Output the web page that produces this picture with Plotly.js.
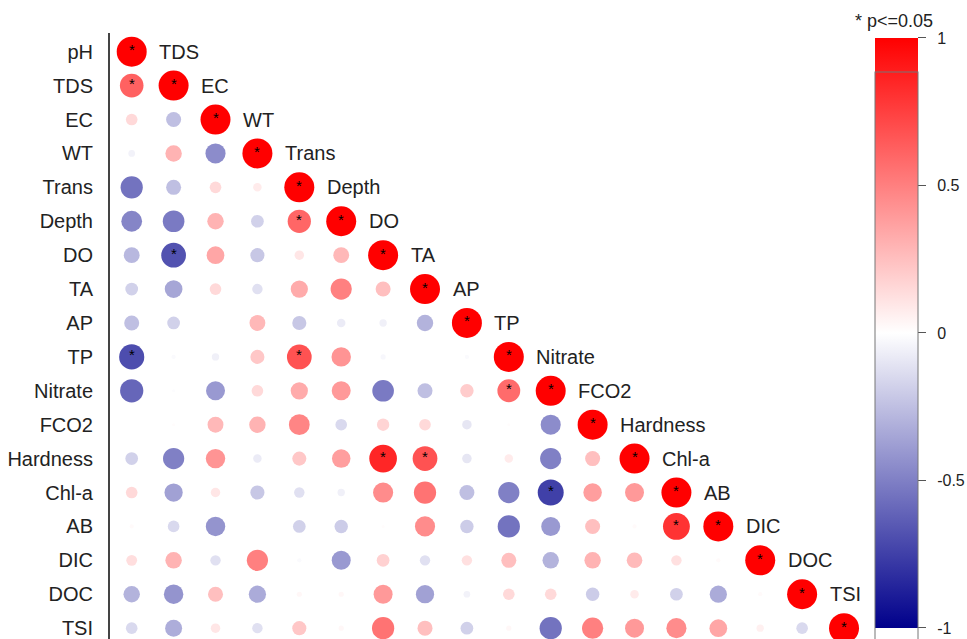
<!DOCTYPE html>
<html>
<head>
<meta charset="utf-8">
<script src="https://cdn.plot.ly/plotly-3.0.1.min.js"></script>
<style>
  html, body { margin: 0; padding: 0; background: #fff; }
  #chart { width: 967px; height: 639px; }
</style>
</head>
<body>
<div id="chart"></div>
<script>
// Variables of the correlation matrix, in display order
const names = ['pH', 'TDS', 'EC', 'WT', 'Trans', 'Depth', 'DO', 'TA', 'AP', 'TP',
               'Nitrate', 'FCO2', 'Hardness', 'Chl-a', 'AB', 'DIC', 'DOC', 'TSI'];

// Lower triangle of Pearson r: row i holds r(names[i], names[j]) for j < i
const corrLower = [
  [],
  [0.62],
  [0.15, -0.25],
  [-0.05, 0.30, -0.45],
  [-0.55, -0.25, 0.15, 0.08],
  [-0.48, -0.52, 0.30, -0.18, 0.60],
  [-0.28, -0.68, 0.35, -0.22, 0.10, 0.28],
  [-0.18, -0.35, 0.15, -0.12, 0.33, 0.50, 0.25],
  [-0.25, -0.18, 0.00, 0.28, -0.22, -0.08, -0.06, -0.30],
  [-0.70, -0.02, -0.06, 0.22, 0.68, 0.42, -0.03, 0.00, -0.02],
  [-0.60, -0.01, -0.40, 0.15, 0.33, 0.40, -0.52, -0.25, 0.20, 0.58],
  [0.00, 0.01, 0.28, 0.30, 0.48, -0.15, 0.17, 0.15, -0.10, 0.01, -0.45],
  [-0.18, -0.50, 0.42, -0.08, 0.22, 0.38, 0.85, 0.68, -0.10, 0.08, -0.50, 0.25],
  [0.15, -0.37, 0.10, -0.22, -0.12, -0.06, 0.45, 0.55, -0.25, -0.50, -0.75, 0.38, 0.40],
  [0.02, -0.15, -0.42, 0.00, -0.18, -0.20, 0.01, 0.45, -0.20, -0.55, -0.40, 0.25, 0.02, 0.80],
  [0.13, 0.30, -0.12, 0.50, -0.02, -0.40, 0.18, -0.12, 0.12, 0.25, -0.30, 0.30, 0.27, 0.12, 0.02],
  [-0.30, -0.42, 0.25, -0.33, 0.03, 0.03, 0.40, -0.37, -0.05, 0.15, 0.15, -0.20, 0.08, -0.18, -0.33, 0.02],
  [-0.15, -0.32, 0.10, -0.12, 0.22, 0.03, 0.55, 0.25, -0.18, 0.03, -0.55, 0.50, 0.40, 0.45, 0.35, 0.06, -0.15]
];

// Off-diagonal pairs with p <= 0.05 (row variable, column variable)
const significantPairs = [
  ['TDS', 'pH'], ['DO', 'TDS'], ['TP', 'pH'], ['Depth', 'Trans'], ['TP', 'Trans'],
  ['Nitrate', 'TP'], ['Hardness', 'DO'], ['Hardness', 'TA'], ['Chl-a', 'Nitrate'], ['AB', 'Chl-a']
];

// Colour bar ticks
const barTicks = [-1, -0.5, 0, 0.5, 1];
const barTickText = ['-1', '-0.5', '0', '0.5', '1'];

const FONT = 'Arial, "Liberation Sans", sans-serif';
const MAX_DIAM = 30; // circle diameter (px) for |r| = 1; circle area follows |r|

// Build one point per lower-triangle cell (diagonal r = 1)
const cx = [], cy = [], cr = [];
names.forEach((_, i) => {
  for (let j = 0; j <= i; j++) {
    cx.push(j);
    cy.push(i);
    cr.push(i === j ? 1 : corrLower[i][j]);
  }
});
const sizes = cr.map(v => MAX_DIAM * Math.sqrt(Math.abs(v)));

// Significance markers: every diagonal cell plus the listed pairs
const sx = [], sy = [];
names.forEach((_, i) => { sx.push(i); sy.push(i); });
significantPairs.forEach(([a, b]) => { sy.push(names.indexOf(a)); sx.push(names.indexOf(b)); });

const circles = {
  type: 'scatter',
  mode: 'markers',
  x: cx,
  y: cy,
  hoverinfo: 'skip',
  marker: {
    size: sizes,
    sizemode: 'diameter',
    opacity: 1,
    color: cr,
    cmin: -1,
    cmax: 1,
    colorscale: [[0, '#00008B'], [0.5, '#FFFFFF'], [1, '#FF0000']],
    line: { width: 0 },
    showscale: true,
    colorbar: {
      xref: 'container', x: 875 / 967, xanchor: 'left',
      yref: 'container', y: 1 - 40 / 639, yanchor: 'top',
      len: 590, lenmode: 'pixels',
      thickness: 43, thicknessmode: 'pixels',
      xpad: 0, ypad: 0,
      outlinewidth: 1, outlinecolor: '#777',
      tickvals: barTicks,
      ticktext: barTickText.map(t => '\u2002' + t),
      ticks: 'outside', ticklen: 8, tickwidth: 1, tickcolor: '#555',
      ticklabeloverflow: 'allow',
      tickfont: { family: FONT, size: 16, color: '#222' }
    }
  }
};

// Column names sit just right of the diagonal circle one row above
const annotations = names.slice(1).map((n, k) => ({
  x: k + 0.61, y: k, xref: 'x', yref: 'y',
  text: n, showarrow: false, xanchor: 'left', yanchor: 'middle',
  font: { family: FONT, size: 20, color: '#222' }
}));
annotations.push({
  x: 0, y: -0.94, xref: 'x', yref: 'y', text: names[0], showarrow: false,
  xanchor: 'center', yanchor: 'middle',
  font: { family: FONT, size: 19, color: '#222' }
});
annotations.push({
  x: (894 - 110) / 760, y: (639 - 21) / 606, xref: 'paper', yref: 'paper',
  text: '* p<=0.05', showarrow: false, xanchor: 'center', yanchor: 'middle',
  font: { family: FONT, size: 18, color: '#222' }
});
// Asterisks for significant cells, sitting in the upper half of each circle
sx.forEach((x, k) => annotations.push({
  x: x, y: sy[k], xref: 'x', yref: 'y', text: '*', showarrow: false,
  xanchor: 'center', yanchor: 'middle', yshift: 2,
  font: { family: FONT, size: 15, color: '#000' }
}));

const layout = {
  width: 967,
  height: 639,
  margin: { l: 110, r: 97, t: 33, b: 0, pad: 0 },
  paper_bgcolor: '#fff',
  plot_bgcolor: '#fff',
  showlegend: false,
  font: { family: FONT, color: '#222' },
  xaxis: {
    range: [-0.518, 17.62],
    showticklabels: false, showgrid: false, zeroline: false, showline: false, ticks: ''
  },
  yaxis: {
    range: [17.32, -0.552],
    tickvals: names.map((_, i) => i),
    ticktext: names,
    tickfont: { family: FONT, size: 20, color: '#222' },
    ticks: '',
    ticklabelstandoff: 11,
    ticklabeloverflow: 'allow',
    showgrid: false, zeroline: false,
    showline: true, linecolor: '#444', linewidth: 2
  },
  annotations: annotations
};

Plotly.newPlot('chart', [circles], layout, { displayModeBar: false, staticPlot: true });
</script>
</body>
</html>
